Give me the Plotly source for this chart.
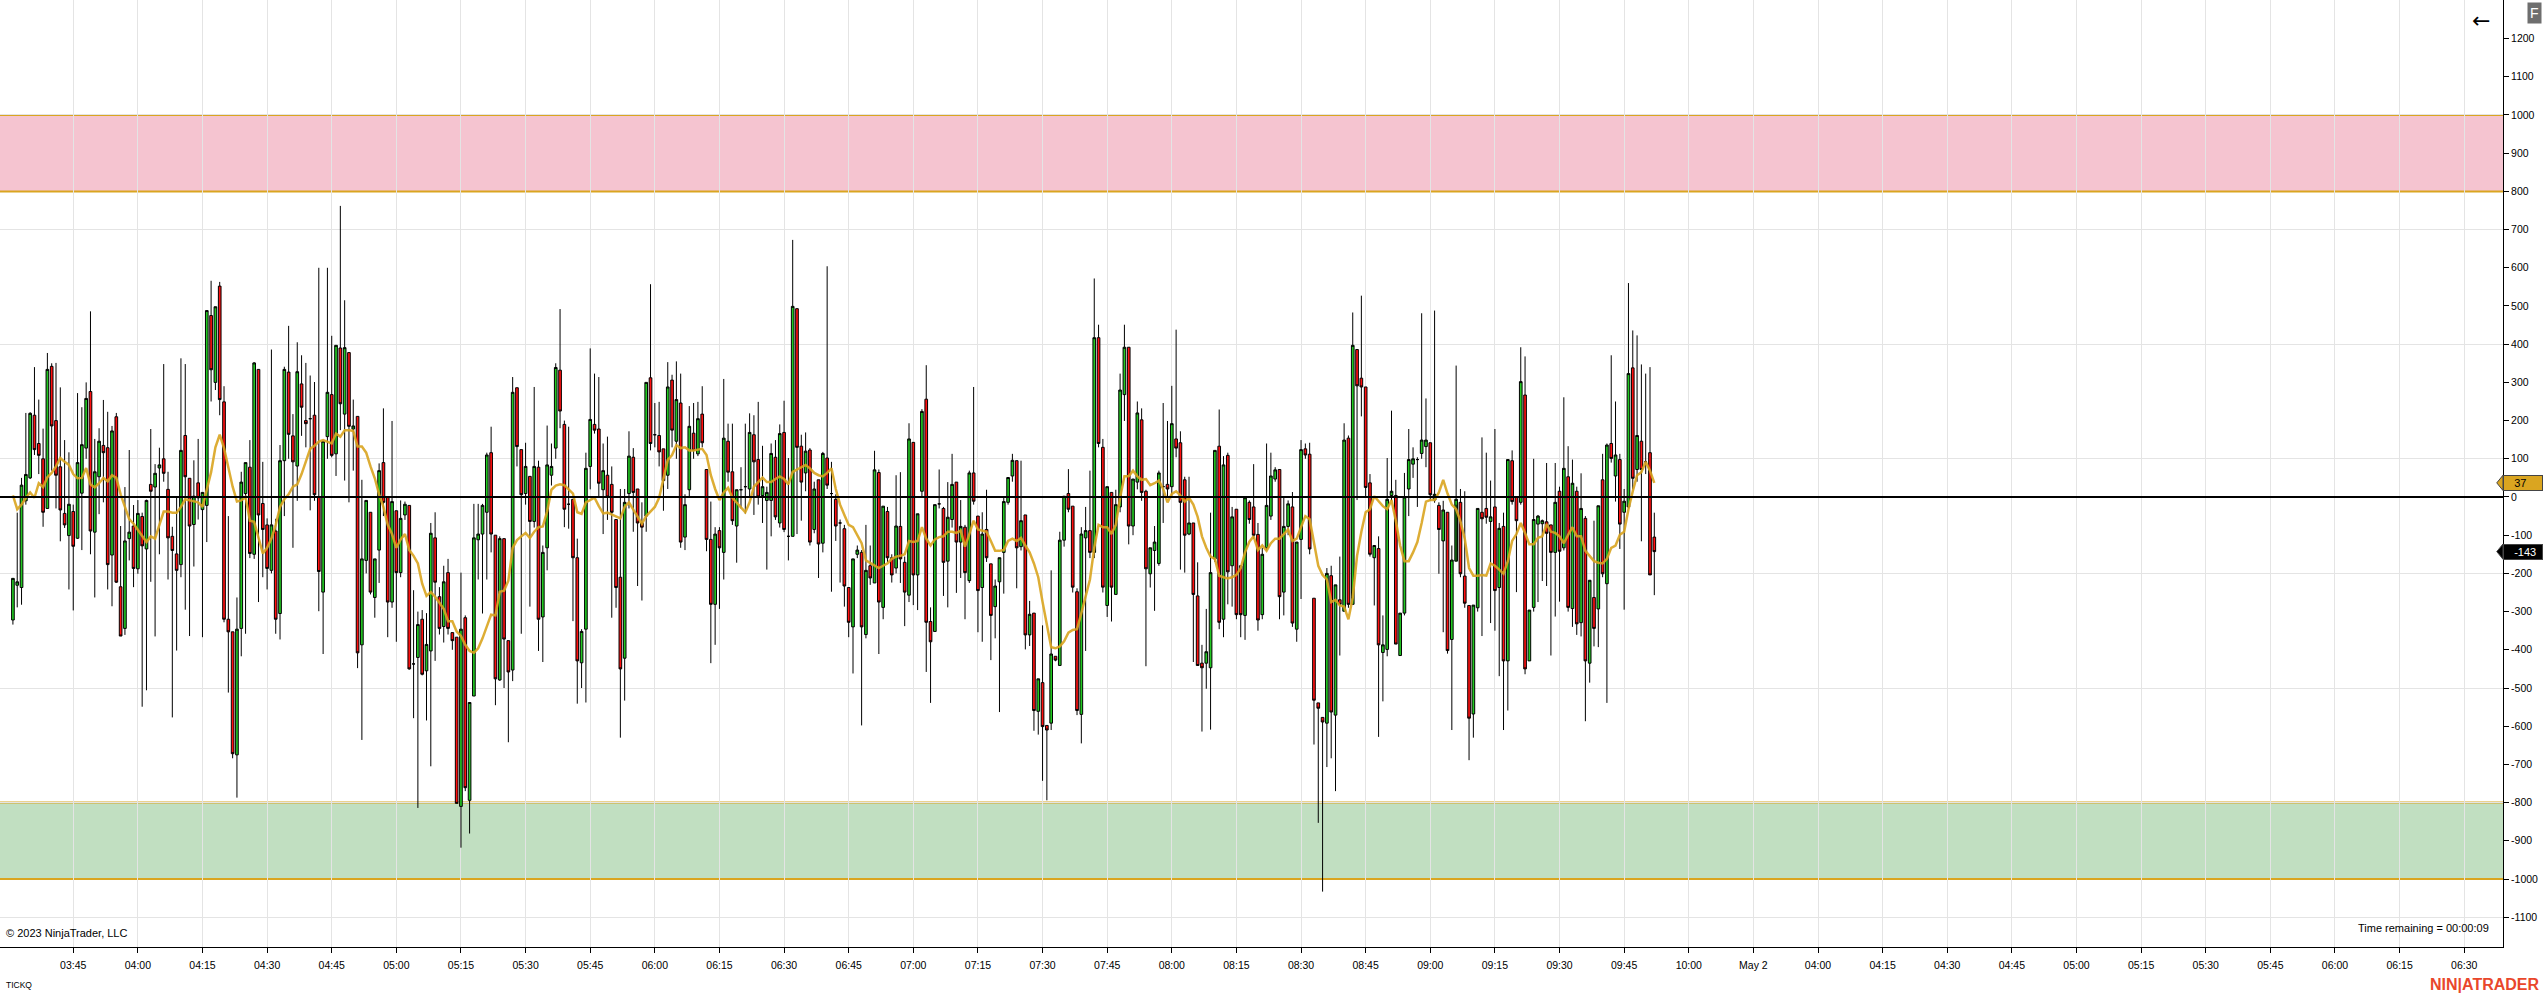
import numpy as np
import plotly.graph_objects as go

# %% data (bar 1 = 03:31)
opens = [
    -322, -231, -237, -10, 50, 214, 140, 100, -30, 342,
    200, 79, -43, -101, -38, -108, 10, 128, 276, -92,
    53, 135, 129, -152, 210, -235, -344, -109, -76, -188,
    -51, -136, 33, 26, 76, 100, 20, -103, -149, -177,
    161, 49, -72, 37, -33, -22, 475, 300, 552, 249,
    -320, -353, -675, -344, 9, 78, -150, 334, -17, -73,
    -192, -89, -305, 95, 327, 160, 81, 296, 200, 205,
    214, 0, -249, 158, 268, 113, 390, 217, 378, 178,
    211, -387, -166, -40, -263, -139, 90, 0, -275, -36,
    -198, -47, -22, -437, -420, -320, -455, -403, -107, -261,
    -339, -198, -355, -367, -810, -316, -794, -521, -112, -97,
    -40, 116, -100, -479, -109, -376, -453, 286, 124, 9,
    54, -64, 78, -314, -133, 57, 128, 332, 190, -19,
    -6, -159, -434, -346, 80, 190, 178, 19, 57, 33,
    -59, -210, -422, 9, 104, 21, -68, -50, 312, 163,
    161, 126, 57, 306, 146, 246, -105, 19, 167, 113,
    217, 72, -111, -281, -88, -145, 146, 66, -76, 19,
    27, 21, 163, 98, 4, -9, -9, 104, -68, 169,
    -103, -103, 493, 133, 63, 123, -85, 45, -121, 102,
    9, -6, -68, -83, -237, -340, -150, -145, -360, -180,
    -225, 64, -289, -38, -159, -186, -77, -171, -257, 143,
    -204, 15, 256, -326, -352, -18, -30, -168, -59, 39,
    -118, -79, -219, 63, -50, -237, -85, -175, -287, -222,
    -145, -14, 55, 95, -130, -47, -361, -304, -561, -486,
    -598, -592, -417, -441, -113, 9, -24, -248, -569, -107,
    -88, -145, 417, 130, -284, 12, -255, -26, 268, 392,
    -76, 39, 202, 15, -201, -140, -174, 27, 33, 27,
    152, 142, 45, -97, -68, -259, -435, -435, -447, -162,
    133, -320, 109, -180, -32, -180, -310, -14, -26, -98,
    -308, -133, -50, 47, 72, -249, -77, -26, -346, -111,
    126, 112, -265, -539, -577, -592, -206, -571, -269, -299,
    154, -281, 386, 311, 288, 37, -159, -135, -407, -399,
    4, 4, -415, -304, 21, 86, 98, 114, 132, 142,
    -8, -22, -115, -40, -373, -168, -14, -207, -284, -568,
    -290, -40, -30, -64, -26, -237, -77, -429, 95, 1,
    -14, 267, -429, -289, -71, -70, -65, -73, -145, 15,
    -133, 53, -292, 15, -329, -56, -435, -263, -293, 45,
    -227, 140, 55, 98, -40, -26, 338, 72, 146, 92,
    116, -105,
]
highs = [
    -213, -41, 50, 220, 222, 340, 255, 179, 377, 350,
    351, 287, 149, 117, -20, 272, 235, 300, 486, 152,
    180, 254, 223, 186, 220, -76, 26, 123, -21, -8,
    -41, -7, 178, 86, 129, 348, 66, -78, 1, 363,
    348, 49, 96, 152, 13, 488, 566, 498, 563, 290,
    -50, -353, -263, 66, 90, 149, 353, 334, 92, -56,
    386, -57, 136, 341, 448, 217, 405, 371, 351, 318,
    301, 600, 146, 600, 422, 397, 762, 515, 378, 255,
    211, 45, -9, -40, -162, 88, 232, 0, 199, -36,
    -9, -12, -22, -244, -300, -296, -304, -68, -40, -236,
    -180, -162, -355, -367, -198, -310, -538, -18, -18, -18,
    116, 184, -100, -103, -109, -376, 314, 286, 124, 142,
    54, 288, 95, -127, 187, 140, 350, 492, 200, 184,
    -6, -109, -346, 116, 389, 323, 314, 140, 158, 80,
    -59, 21, 21, 172, 128, 21, -14, 300, 557, 246,
    249, 126, 353, 320, 355, 323, 7, 238, 246, 249,
    290, 72, -12, -79, -79, 309, 192, 192, 19, 78,
    192, 219, 214, 249, 134, 27, 140, 149, 190, 252,
    102, 673, 493, 163, 169, 128, 40, 45, 118, 604,
    92, 7, -59, -73, -237, -162, -127, -139, -73, -127,
    121, 72, -24, -26, -150, 57, 65, -156, 193, 143,
    -44, 230, 345, -289, -20, 72, -26, 39, 113, 39,
    -8, -73, 69, 288, -50, -40, 19, -175, -216, -159,
    -2, 51, 113, 95, 95, -47, -272, -304, -476, -336,
    -598, -192, -417, -91, 2, 73, -24, -239, -79, -26,
    69, 572, 451, 152, 27, 12, 19, 323, 451, 392,
    47, 250, 232, 19, -133, -76, 69, 246, 199, 291,
    438, 172, 53, 53, -68, -171, -387, -293, -41, 122,
    229, 107, 116, -26, -32, -180, -2, -9, 86, -68,
    -133, 140, 116, 78, 72, -2, -9, 13, -118, 149,
    140, 142, -265, -539, -577, -186, -180, -230, -156, 193,
    161, 483, 386, 527, 288, 60, -127, -103, -310, 102,
    226, 45, -304, 63, 178, 130, 104, 481, 258, 142,
    488, -14, -10, -40, -127, 344, 21, 15, -284, -283,
    -30, 156, 116, 43, 178, -68, -41, 98, 122, 1,
    392, 368, -296, 100, -47, -59, 89, -73, 89, 27,
    261, 133, 98, 27, 62, -50, -218, -62, -23, 113,
    140, 371, 250, 113, 21, 560, 436, 423, 347, 323,
    340, -41,
]
lows = [
    -334, -289, -282, -20, 47, 110, 60, -78, -30, 69,
    -30, -116, -81, -242, -297, -110, -139, 100, -150, -263,
    -45, -14, -242, -286, -225, -364, -361, -166, -236, -201,
    -549, -506, -222, -365, -150, 40, -216, -577, -402, -210,
    -295, -364, -182, -59, -367, -118, 250, 280, 214, -328,
    -512, -684, -787, -417, -358, -160, -162, -275, -210, -242,
    -200, -358, -373, -50, 100, -133, -10, 160, 130, -35,
    -10, -299, -411, 100, 104, 55, 175, 43, -14, 69,
    -448, -636, -200, -255, -316, -225, -50, -367, -290, -379,
    -210, -60, -452, -579, -814, -467, -585, -705, -429, -360,
    -381, -360, -400, -802, -918, -770, -881, -521, -216, -305,
    -216, -145, -545, -481, -500, -642, -482, 80, -358, -20,
    -287, -80, -403, -432, -192, 30, 100, 180, -79, -83,
    -325, -541, -500, -538, 20, 166, 0, -97, -60, -316,
    -290, -630, -533, -30, -91, -233, -271, -91, 122, 130,
    80, -36, 21, 130, 100, -133, -139, 0, 100, 107,
    130, -142, -435, -387, -293, -216, 40, -73, -172, -30,
    -44, 0, -47, -20, -68, -190, -103, -60, -80, -92,
    -166, -103, -97, -62, 15, -127, -95, -212, -145, 21,
    -248, -115, -224, -287, -367, -462, -160, -598, -370, -230,
    -225, -411, -320, -170, -224, -200, -225, -338, -275, -283,
    -296, 0, -458, -539, -352, -30, -259, -289, -80, -251,
    -212, -320, -225, -20, -354, -379, -170, -427, -370, -563,
    -253, -20, 40, -239, -140, -399, -390, -612, -622, -743,
    -794, -610, -430, -441, -130, -40, -250, -571, -645, -403,
    -160, -160, 130, -250, -314, -326, -255, -40, 199, -124,
    -100, 20, -10, -443, -237, -298, -180, -68, 0, 0,
    104, -190, -198, -100, -432, -441, -614, -502, -609, -170,
    -346, -367, -281, -287, -320, -367, -374, -70, -110, -350,
    -320, -140, -60, 40, -320, -310, -100, -340, -379, -267,
    100, -150, -648, -853, -1033, -707, -684, -770, -415, -299,
    -290, -281, -8, 211, 0, -156, -284, -628, -535, -417,
    -10, -385, -415, -310, -50, 50, -26, 100, 78, -10,
    -15, -201, -354, -410, -610, -20, -210, -290, -689, -630,
    -300, -364, -70, -330, -350, -469, -610, -559, -20, -249,
    -20, -464, -429, -300, -275, -220, -233, -415, -313, -274,
    -140, -300, -340, -361, -365, -587, -486, -391, -393, -210,
    -539, 90, -12, -136, -295, -30, 20, 40, -116, 60,
    -204, -257,
]
closes = [
    -213, -222, 31, 59, 219, 124, 109, -40, 334, 186,
    57, -34, -73, -19, -129, 90, 137, 258, -89, 66,
    146, 116, -177, 173, -223, -364, -115, -92, -187, -43,
    -128, -9, 15, 62, 84, 62, -107, -140, -192, 122,
    53, -76, 2, -2, 12, 488, 333, 498, 255, -320,
    -353, -672, -346, 39, 90, -148, 351, -47, -85, -187,
    -73, -320, 95, 334, 164, 92, 328, 235, 192, 205,
    6, -195, 146, 274, 109, 397, 244, 391, 185, 186,
    -408, -162, -9, -249, -162, 69, -14, -275, -12, -198,
    -56, -19, -450, -437, -334, -464, -386, -95, -223, -344,
    -222, -344, -376, -802, -346, -761, -538, -107, -97, -22,
    110, -97, -476, -109, -372, -458, 274, 132, 6, 80,
    -64, 80, -320, -145, 84, 80, 339, 225, -32, -19,
    -159, -429, -352, 75, 203, 175, 36, 69, 0, -40,
    -237, -450, -14, 107, 12, -68, -79, 300, 140, 163,
    118, 43, 288, 175, 255, -118, -20, 185, 122, 205,
    142, -111, -281, -97, -133, 154, 65, -62, 19, 19,
    27, 169, 92, 0, 27, 12, 114, -52, 166, -85,
    -103, 499, 130, 39, 120, -118, 21, -123, 114, 31,
    9, -76, -68, -233, -328, -162, -139, -340, -192, -212,
    71, -275, -24, -159, -204, -76, -162, -249, 152, -204,
    -44, 224, -328, -379, -20, -18, -171, -53, 33, -118,
    -77, -198, 63, -11, -245, -97, -159, -310, -233, -159,
    -12, 51, 96, -133, -62, -361, -307, -559, -476, -601,
    -610, -411, -427, -113, 2, -32, -236, -559, -97, -88,
    -145, 417, 140, -236, 27, -236, -20, 280, 392, -76,
    47, 220, 12, -188, -133, -118, 63, 27, 21, 192,
    128, -14, -100, -68, -255, -441, -447, -405, -198, 122,
    -328, 84, -196, -52, -308, -308, -2, -59, -100, -322,
    -150, -22, 55, 71, -261, -77, -18, -330, -118, 124,
    110, -136, -532, -553, -589, -200, -563, -230, -281, 149,
    -281, 397, 291, 288, 25, -150, -127, -387, -387, -6,
    15, -385, -304, 0, 98, 100, 98, 149, 149, 6,
    7, -85, -34, -402, -165, -6, -201, -278, -579, -283,
    -30, -57, -53, -52, -245, -82, -429, 98, -12, -62,
    302, -450, -296, -59, -50, -62, -95, -145, -14, -142,
    75, -289, 36, -332, -30, -429, -218, -344, -23, -201,
    136, 101, 110, -71, -11, 323, 49, 161, 72, 92,
    -204, -143,
]
# moving average line as drawn
ma = [
    4, -32, -20, -2, 12, -2, 36, 26, 52, 63,
    80, 102, 92, 84, 60, 49, 50, 76, 33, 25,
    36, 50, 41, 57, 50, 7, -26, -58, -70, -85,
    -101, -118, -103, -109, -73, -38, -38, -41, -41, -26,
    -6, -9, -12, -14, -26, 20, 65, 130, 163, 128,
    80, 27, -12, -9, 0, -62, -65, -109, -148, -133,
    -109, -73, -26, -6, 7, 27, 33, 60, 95, 126,
    134, 145, 149, 145, 140, 166, 158, 175, 175, 173,
    132, 132, 116, 80, 49, 7, -26, -73, -97, -133,
    -111, -97, -139, -154, -174, -227, -259, -249, -261, -277,
    -293, -325, -325, -352, -364, -387, -403, -408, -396, -370,
    -340, -308, -310, -248, -245, -219, -133, -113, -103, -94,
    -107, -91, -79, -77, -38, 19, 30, 33, 31, 21,
    9, -40, -44, -14, -9, -2, -24, -43, -41, -46,
    -50, -56, -26, -14, -33, -50, -70, -50, -38, -26,
    -2, 45, 97, 110, 136, 128, 130, 122, 122, 124,
    126, 110, 57, 21, -8, 12, 24, -2, -14, -26,
    -40, -14, 27, 39, 51, 39, 39, 47, 54, 47,
    33, 66, 72, 77, 84, 75, 63, 57, 54, 63,
    75, 21, -20, -47, -73, -79, -101, -121, -166, -172,
    -178, -186, -180, -174, -162, -156, -154, -150, -115, -118,
    -115, -79, -109, -127, -111, -105, -103, -91, -91, -94,
    -88, -130, -97, -62, -85, -88, -91, -115, -141, -141,
    -139, -115, -109, -115, -107, -127, -145, -174, -210, -275,
    -334, -393, -396, -391, -378, -355, -348, -346, -304, -263,
    -216, -133, -73, -79, -79, -97, -73, -2, 54, 54,
    69, 54, 45, 47, 31, 36, 43, 21, -14, 8,
    15, 4, -12, -2, -20, -52, -103, -133, -156, -162,
    -206, -210, -213, -210, -204, -186, -145, -117, -103, -139,
    -127, -141, -121, -109, -109, -97, -85, -115, -109, -79,
    -50, -58, -121, -180, -204, -216, -275, -269, -284, -287,
    -320, -263, -154, -91, -40, -32, 2, -12, -24, -32,
    -8, -62, -127, -168, -168, -145, -118, -68, -12, -8,
    -8, 12, 45, 9, -20, -32, -64, -109, -186, -206,
    -206, -204, -206, -174, -180, -190, -201, -168, -115, -97,
    -68, -94, -124, -124, -107, -103, -71, -91, -94, -103,
    -121, -99, -79, -103, -103, -141, -154, -168, -172, -174,
    -162, -133, -127, -99, -91, -32, 15, 57, 65, 92,
    69, 37,
]

time_labels = ["03:45", "04:00", "04:15", "04:30", "04:45", "05:00", "05:15", "05:30",
               "05:45", "06:00", "06:15", "06:30", "06:45", "07:00", "07:15", "07:30",
               "07:45", "08:00", "08:15", "08:30", "08:45", "09:00", "09:15", "09:30",
               "09:45", "10:00", "May 2", "04:00", "04:15", "04:30", "04:45", "05:00",
               "05:15", "05:30", "05:45", "06:00", "06:15", "06:30"]

upper_zone = (800, 1000)
lower_zone = (-1000, -800)

# %% axes helpers
bar_x = np.arange(1, len(closes) + 1)          # minutes after 03:30
time_ticks = [15 * (i + 1) for i in range(len(time_labels))]
price_ticks = list(range(-1100, 1300, 100))
y_range = [-1178, 1301]

FONT = "Liberation Sans, Arial, sans-serif"
GOLD = "#DAA520"

fig = go.Figure()
fig.add_trace(go.Candlestick(
    x=bar_x, open=opens, high=highs, low=lows, close=closes,
    increasing=dict(line=dict(color="black", width=1), fillcolor="#22C822"),
    decreasing=dict(line=dict(color="black", width=1), fillcolor="#FF1010"),
    whiskerwidth=0, showlegend=False, hoverinfo="skip"))
fig.add_trace(go.Scatter(x=bar_x, y=ma, yaxis="y2", mode="lines",
                         line=dict(color=GOLD, width=2.5), opacity=0.9,
                         showlegend=False, hoverinfo="skip"))

shapes = []
for (lo, hi), col in [(upper_zone, "rgba(226,86,121,0.35)"), (lower_zone, "rgba(78,164,78,0.35)")]:
    shapes.append(dict(type="rect", xref="paper", x0=0, x1=1, yref="y", y0=lo, y1=hi,
                       fillcolor=col, line=dict(width=0), layer="between"))
    for lvl in (lo, hi):
        shapes.append(dict(type="line", xref="paper", x0=0, x1=1, yref="y", y0=lvl, y1=lvl,
                           line=dict(color=GOLD, width=2), layer="between"))
shapes.append(dict(type="line", xref="paper", x0=0, x1=1, yref="y", y0=0, y1=0,
                   line=dict(color="black", width=2), layer="above"))

# price flags on the axis
annotations = []
for val, bg, fg in [(ma[-1], GOLD, "black"), (closes[-1], "black", "white")]:
    shapes.append(dict(type="path", xref="paper", yref="y", fillcolor=bg,
                       line=dict(color="#444", width=1),
                       path=f"M 1.0,{val + 20} L 0.9975,{val} L 1.0,{val - 20} Z"))
    annotations.append(dict(xref="paper", x=1.0, xanchor="left", yref="y", y=val,
                            yanchor="middle", text="\u00a0\u00a0\u00a0" + str(val),
                            showarrow=False, bgcolor=bg, bordercolor="#444", borderwidth=1,
                            borderpad=1, width=36, align="left",
                            font=dict(family=FONT, size=11, color=fg)))

annotations += [
    dict(xref="paper", yref="paper", x=0, y=0.0148, xanchor="left", yanchor="middle", xshift=4,
         text="© 2023 NinjaTrader, LLC", showarrow=False,
         font=dict(family=FONT, size=11, color="black")),
    dict(xref="paper", yref="paper", x=0, y=-0.040, xanchor="left", yanchor="middle", xshift=4,
         text="TICKQ", showarrow=False, font=dict(family=FONT, size=8.5, color="black")),
    dict(xref="paper", yref="paper", x=0.9952, y=0.0201, xanchor="right", yanchor="middle",
         text="Time remaining = 00:00:09", showarrow=False,
         font=dict(family=FONT, size=11, color="black")),
    dict(xref="paper", yref="paper", x=1.0156, y=-0.0391, xanchor="right", yanchor="middle",
         text="<b>NIN|ATRADER</b>", showarrow=False,
         font=dict(family=FONT, size=16, color="#E9472B")),
    dict(xref="paper", yref="paper", x=1.0125, y=0.9865, xanchor="center", yanchor="middle",
         text="F", showarrow=False, bgcolor="#6E6E6E", borderpad=2,
         font=dict(family=FONT, size=14, color="white")),
    dict(xref="paper", yref="paper", x=0.9912, y=0.978, xanchor="center", yanchor="middle",
         text="\u2190", showarrow=False, font=dict(family="DejaVu Sans", size=22, color="black")),
]

fig.update_layout(
    width=2544, height=994,
    margin=dict(l=0, r=41, t=0, b=47),
    paper_bgcolor="white", plot_bgcolor="white",
    font=dict(family=FONT, size=11, color="black"),
    showlegend=False, hovermode=False,
    boxgap=0.3, boxgroupgap=0.12,
    xaxis=dict(range=[-2, 579], tickvals=time_ticks, ticktext=time_labels,
               showgrid=True, gridcolor="#E4E4E4", gridwidth=1,
               ticks="outside", ticklen=5, tickcolor="black",
               showline=True, linecolor="black", linewidth=1,
               zeroline=False, rangeslider=dict(visible=False),
               ticklabelstandoff=3,
               tickfont=dict(family=FONT, size=10.5, color="black")),
    yaxis=dict(range=y_range, tick0=-1100, dtick=300, showgrid=True,
               gridcolor="#E4E4E4", gridwidth=1, showticklabels=False, ticks="",
               zeroline=False, side="right", showline=False),
    yaxis2=dict(range=y_range, overlaying="y", side="right", tickmode="array",
                tickvals=price_ticks, ticktext=[str(v) for v in price_ticks],
                showgrid=False, ticks="outside", ticklen=5, tickcolor="black",
                showline=True, linecolor="black", linewidth=1, zeroline=False,
                tickfont=dict(family=FONT, size=10.5, color="black")),
    shapes=shapes, annotations=annotations,
)

# page body has a default 8px margin; drop it so the figure fills the window
fig.write_html("out.html", config={"displayModeBar": False},
               post_script="document.body.style.margin='0';document.body.style.overflow='hidden';")
